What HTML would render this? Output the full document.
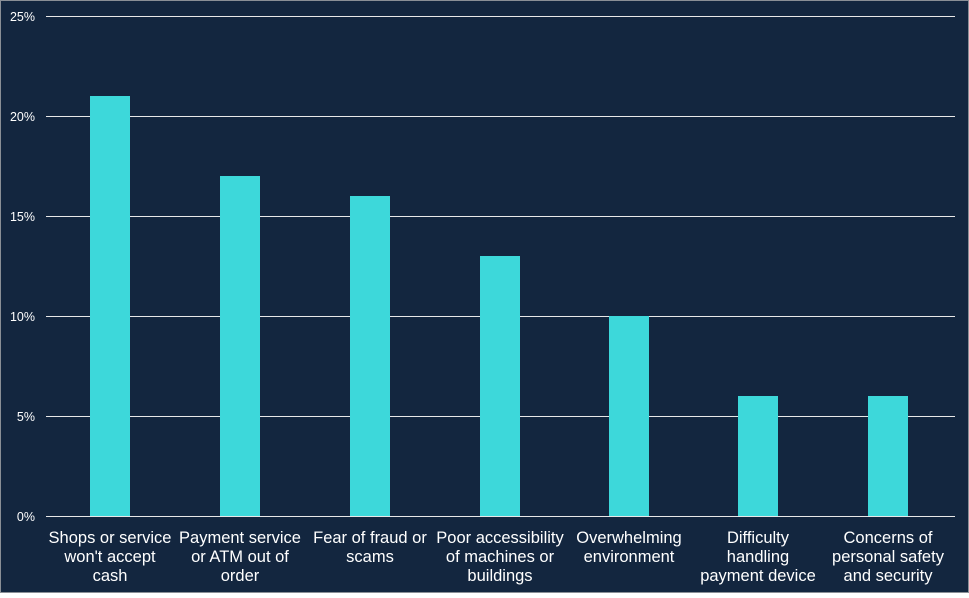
<!DOCTYPE html>
<html><head><style>
html,body{margin:0;padding:0;}
body{width:969px;height:593px;background:#fff;}
</style></head><body>
<svg width="969" height="593" xmlns="http://www.w3.org/2000/svg" font-family="Liberation Sans, Arial, sans-serif">
<rect x="0.5" y="0.5" width="968" height="592" fill="#13263F" stroke="#8a8f96"/>
<g stroke="#e8e8e8" stroke-width="1">
<line x1="46" x2="955" y1="16.5" y2="16.5"/>
<line x1="46" x2="955" y1="116.5" y2="116.5"/>
<line x1="46" x2="955" y1="216.5" y2="216.5"/>
<line x1="46" x2="955" y1="316.5" y2="316.5"/>
<line x1="46" x2="955" y1="416.5" y2="416.5"/>
</g>
<g fill="#3DD8DA">
<rect x="90" y="96" width="40" height="420"/>
<rect x="220" y="176" width="40" height="340"/>
<rect x="350" y="196" width="40" height="320"/>
<rect x="480" y="256" width="40" height="260"/>
<rect x="609" y="316" width="40" height="200"/>
<rect x="738" y="396" width="40" height="120"/>
<rect x="868" y="396" width="40" height="120"/>
</g>
<line x1="46" x2="955" y1="516.5" y2="516.5" stroke="#e8e8e8"/>
<g fill="#fff" font-size="12.5" text-anchor="end">
<text x="35" y="21">25%</text>
<text x="35" y="121">20%</text>
<text x="35" y="221">15%</text>
<text x="35" y="321">10%</text>
<text x="35" y="421">5%</text>
<text x="35" y="521">0%</text>
</g>
<g fill="#fff" font-size="16.5" text-anchor="middle">
<text x="110" y="543">Shops or service</text><text x="110" y="562">won't accept</text><text x="110" y="581">cash</text>
<text x="240" y="543">Payment service</text><text x="240" y="562">or ATM out of</text><text x="240" y="581">order</text>
<text x="370" y="543">Fear of fraud or</text><text x="370" y="562">scams</text>
<text x="500" y="543">Poor accessibility</text><text x="500" y="562">of machines or</text><text x="500" y="581">buildings</text>
<text x="629" y="543">Overwhelming</text><text x="629" y="562">environment</text>
<text x="758" y="543">Difficulty</text><text x="758" y="562">handling</text><text x="758" y="581">payment device</text>
<text x="888" y="543">Concerns of</text><text x="888" y="562">personal safety</text><text x="888" y="581">and security</text>
</g>
</svg>
</body></html>
